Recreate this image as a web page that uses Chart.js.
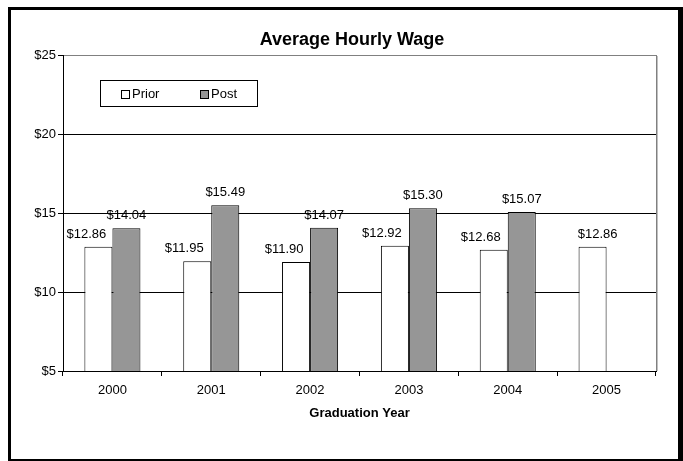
<!DOCTYPE html>
<html>
<head>
<meta charset="utf-8">
<script src="https://cdn.jsdelivr.net/npm/chart.js@4/dist/chart.umd.min.js"></script>
<style>
  html, body { margin:0; padding:0; background:#fff; }
  #wrap { position:relative; width:683px; height:461px; }
  #grafica { position:absolute; left:0; top:0; }
  #marco { position:absolute; left:8px; top:7px; width:675px; height:454px; box-sizing:border-box;
           border-style:solid; border-color:#000; border-width:3px 5px 2px 3px; pointer-events:none; }
</style>
</head>
<body>
<div id="wrap">
  <canvas id="grafica" width="683" height="461"></canvas>
  <div id="marco"></div>
</div>
<script>
// datos
const anios = ['2000', '2001', '2002', '2003', '2004', '2005'];
const antes = [12.86, 11.95, 11.90, 12.92, 12.68, 12.86];
const despues = [14.04, 15.49, 14.07, 15.30, 15.07, null];
const ticksY = [5, 10, 15, 20, 25];
const titulo = 'Average Hourly Wage';

const fuente = 'Liberation Sans, Arial, sans-serif';
const gris = '#969696';

// título centrado como en el original (no sobre el área de trazado)
const tituloPlugin = {
  id: 'tituloPlugin',
  afterDraw(chart, args, opts) {
    const ctx = chart.ctx;
    ctx.save();
    ctx.font = 'bold 18px ' + fuente;
    ctx.fillStyle = '#000';
    ctx.textAlign = 'center';
    ctx.textBaseline = 'middle';
    ctx.fillText(opts.text, opts.x, opts.y);
    ctx.restore();
  }
};

// etiquetas encima de cada barra (las de "Prior" van corridas a un lado, como en el original)
const etiquetasBarras = {
  id: 'etiquetasBarras',
  afterDatasetsDraw(chart, args, opts) {
    const ctx = chart.ctx;
    ctx.save();
    ctx.font = '13px ' + fuente;
    ctx.fillStyle = '#000';
    ctx.textAlign = 'center';
    ctx.textBaseline = 'alphabetic';
    chart.data.datasets.forEach((ds, i) => {
      const dx = (opts.corrimiento && opts.corrimiento[i]) || [];
      chart.getDatasetMeta(i).data.forEach((bar, j) => {
        const v = ds.data[j];
        if (v == null) return;
        ctx.fillText('$' + v.toFixed(2), bar.x + (dx[j] || 0), bar.y - 9);
      });
    });
    ctx.restore();
  }
};

// leyenda dentro del área
const leyenda = {
  id: 'leyenda',
  afterDraw(chart) {
    const ctx = chart.ctx;
    ctx.save();
    ctx.fillStyle = '#fff';
    ctx.fillRect(100, 80, 158, 27);
    ctx.strokeStyle = '#000';
    ctx.lineWidth = 1;
    ctx.strokeRect(100.5, 80.5, 157, 26);
    ctx.font = '13px ' + fuente;
    ctx.textBaseline = 'middle';
    const xs = [121, 200];
    chart.data.datasets.forEach((ds, i) => {
      ctx.fillStyle = ds.backgroundColor;
      ctx.fillRect(xs[i], 90, 8, 8);
      ctx.strokeStyle = '#000';
      ctx.strokeRect(xs[i] + 0.5, 90.5, 8, 8);
      ctx.fillStyle = '#000';
      ctx.fillText(ds.label, xs[i] + 11, 94.5);
    });
    ctx.restore();
  }
};

// borde gris del área de trazado (derecha)
const bordeArea = {
  id: 'bordeArea',
  beforeDatasetsDraw(chart) {
    const a = chart.chartArea, ctx = chart.ctx;
    ctx.save();
    ctx.strokeStyle = '#808080';
    ctx.lineWidth = 1;
    ctx.beginPath();
    ctx.moveTo(a.right + 0.5, a.top);
    ctx.lineTo(a.right + 0.5, a.bottom);
    ctx.stroke();
    ctx.strokeStyle = '#c0c0c0';
    ctx.beginPath();
    ctx.moveTo(a.right + 1.5, a.top + 1);
    ctx.lineTo(a.right + 1.5, a.bottom);
    ctx.stroke();
    ctx.restore();
  }
};

new Chart(document.getElementById('grafica').getContext('2d'), {
  type: 'bar',
  data: {
    labels: anios,
    datasets: [
      { label: 'Prior', data: antes, backgroundColor: '#ffffff', borderColor: '#000', borderWidth: 1,
        categoryPercentage: 0.567, barPercentage: 1.0 },
      { label: 'Post', data: despues, backgroundColor: gris, borderColor: '#000', borderWidth: 1,
        categoryPercentage: 0.567, barPercentage: 1.0 }
    ]
  },
  options: {
    responsive: false,
    animation: false,
    devicePixelRatio: 1,
    layout: { padding: { left: 0, right: 27, top: 55, bottom: 40 } },
    plugins: {
      legend: { display: false },
      tooltip: { enabled: false },
      title: { display: false },
      tituloPlugin: { text: titulo, x: 352, y: 40.5 },
      etiquetasBarras: { corrimiento: [[-12, -13, -12, -13, -13, 5], []] }
    },
    scales: {
      x: {
        grid: { offset: true, drawOnChartArea: false, tickLength: 5, color: '#000', tickColor: '#000' },
        border: { color: '#000', width: 1 },
        ticks: { color: '#000', padding: 7, font: { family: fuente, size: 13 }, maxRotation: 0 },
        title: { display: true, text: 'Graduation Year', color: '#000',
                 font: { family: fuente, size: 13, weight: 'bold' }, padding: { top: 4, bottom: 0 } },
        afterFit: s => { s.height = 50; }
      },
      y: {
        min: 5, max: 25,
        afterBuildTicks: s => { s.ticks = ticksY.map(v => ({ value: v })); },
        grid: { color: c => (c.tick && c.tick.value === 25 ? '#808080' : '#000'), tickColor: '#000', tickLength: 5 },
        border: { color: '#000', width: 1 },
        ticks: { color: '#000', padding: 2, font: { family: fuente, size: 13 }, callback: v => '$' + v },
        afterFit: s => { s.width = 63; }
      }
    }
  },
  plugins: [bordeArea, etiquetasBarras, leyenda, tituloPlugin]
});
</script>
</body>
</html>
